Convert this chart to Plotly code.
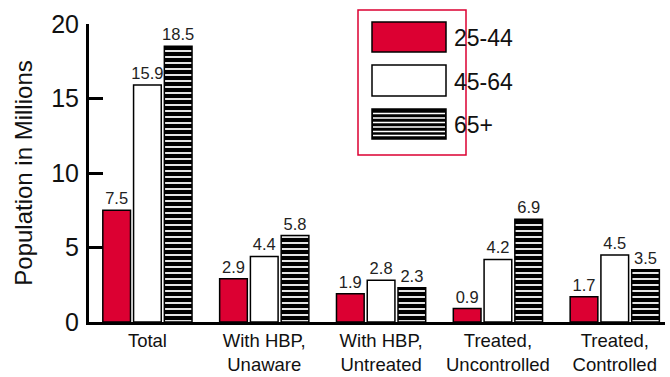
import plotly.graph_objects as go

categories = ["Total", "With HBP,<br>Unaware", "With HBP,<br>Untreated", "Treated,<br>Uncontrolled", "Treated,<br>Controlled"]
series_names = ["25-44", "45-64", "65+"]
v_25_44 = [7.5, 2.9, 1.9, 0.9, 1.7]
v_45_64 = [15.9, 4.4, 2.8, 4.2, 4.5]
v_65p = [18.5, 5.8, 2.3, 6.9, 3.5]
y_ticks = [0, 5, 10, 15, 20]

FONT = "Liberation Sans, Arial, sans-serif"
RED = "#dc0032"

L, R, T, B = 89, 5, 24, 55
W, H = 670, 377
PW, PH = W - L - R, H - T - B

def px(x):
    return (x - L) / PW

def py(y):
    return (H - B - y) / PH

fig = go.Figure()
common = dict(textposition="outside", cliponaxis=False, constraintext="none",
              textfont=dict(family=FONT, size=16.5, color="#222"), showlegend=False, hoverinfo="skip")
fig.add_trace(go.Bar(x=list(range(5)), y=v_25_44, name=series_names[0], text=[f"{v}" for v in v_25_44],
                     marker=dict(color=RED, line=dict(color="black", width=1.5)), **common))
fig.add_trace(go.Bar(x=list(range(5)), y=v_45_64, name=series_names[1], text=[f"{v}" for v in v_45_64],
                     marker=dict(color="white", line=dict(color="black", width=1.5)), **common))
fig.add_trace(go.Bar(x=list(range(5)), y=v_65p, name=series_names[2], text=[f"{v}" for v in v_65p],
                     marker=dict(color="black", line=dict(color="black", width=1.5),
                                 pattern=dict(shape="-", fgcolor="white", bgcolor="black",
                                              size=6, solidity=0.3, fillmode="replace")), **common))

shapes = []
annotations = []
# legend box
shapes.append(dict(type="rect", xref="paper", yref="paper", x0=px(358), x1=px(466), y0=py(155), y1=py(10),
                   line=dict(color=RED, width=1.5), fillcolor="white", layer="above"))
sw = [(22, 52), (65, 96), (109, 139)]
fills = [RED, "white", "black"]
for i, ((a, b), f) in enumerate(zip(sw, fills)):
    shapes.append(dict(type="rect", xref="paper", yref="paper", x0=px(372), x1=px(446), y0=py(b), y1=py(a),
                       line=dict(color="black", width=1.5), fillcolor=f, layer="above"))
    annotations.append(dict(xref="paper", yref="paper", x=px(452), y=py((a + b) / 2 + 1), text=series_names[i],
                            showarrow=False, xanchor="left", yanchor="middle",
                            font=dict(family=FONT, size=23, color="#111")))
for yy in [113.5, 118, 122.5, 127, 131.5, 135.5]:
    shapes.append(dict(type="line", xref="paper", yref="paper", x0=px(373), x1=px(445), y0=py(yy), y1=py(yy),
                       line=dict(color="white", width=1.5), layer="above"))

fig.update_layout(
    width=W, height=H,
    margin=dict(l=L, r=R, t=T, b=B),
    paper_bgcolor="white", plot_bgcolor="white",
    barmode="group", bargap=0.21, bargroupgap=0.1,
    shapes=shapes, annotations=annotations,
    font=dict(family=FONT, color="#111"),
    hovermode=False,
)
fig.update_xaxes(range=[-0.5, 4.43], tickmode="array", tickvals=list(range(5)), ticktext=categories,
                 showline=True, linecolor="black", linewidth=3, ticks="", showgrid=False, zeroline=False,
                 automargin=False, ticklabelstandoff=0,
                 tickfont=dict(family=FONT, size=18.5, color="#111"))
fig.update_yaxes(range=[0, 20], tickmode="array", tickvals=y_ticks, showline=True, linecolor="black",
                 linewidth=3, ticks="inside", ticklen=14, tickwidth=3, tickcolor="black",
                 showgrid=False, zeroline=False, automargin=False, ticklabelstandoff=2,
                 tickfont=dict(family=FONT, size=25, color="#111"),
                 title=dict(text="Population in Millions", font=dict(family=FONT, size=24, color="#111"), standoff=12))

fig.write_html("out.html", config={"displayModeBar": False},
               post_script="document.body.style.margin='0';document.body.style.overflow='hidden';")
